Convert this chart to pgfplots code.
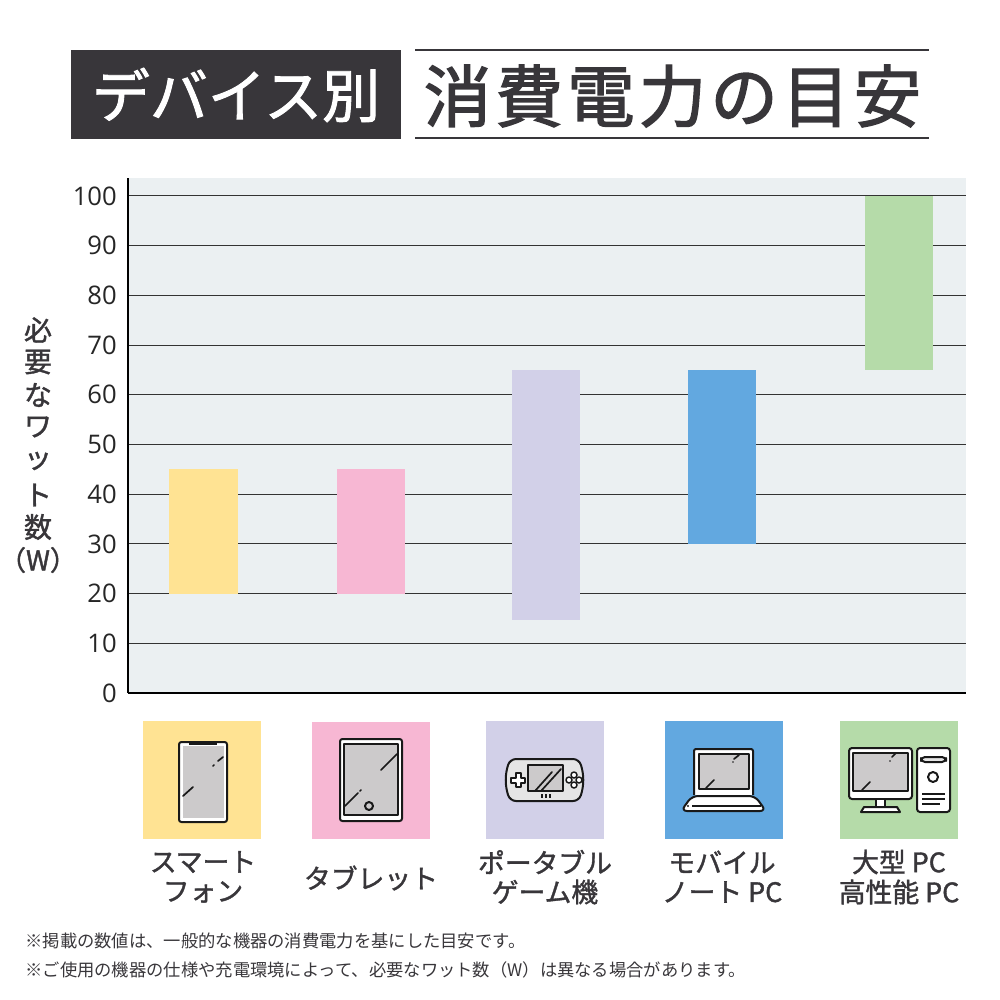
\documentclass[border=0pt]{standalone}
\usepackage{fontspec}
\usepackage{pgfplots}
\pgfplotsset{compat=1.18}
\setmainfont{Open Sans}
\newfontfamily\jp{Noto Sans CJK JP}
\newfontfamily\jpb[FakeBold=1.4]{Noto Sans CJK JP}
\newfontfamily\jpw[FakeBold=1.6]{Noto Sans CJK JP}
\newfontfamily\jpt[FakeBold=2,LetterSpace=6]{Noto Sans CJK JP}
\definecolor{dk}{HTML}{38363A}
\definecolor{cy}{HTML}{FFE393}
\definecolor{cp}{HTML}{F7B7D3}
\definecolor{cl}{HTML}{D2D0E8}
\definecolor{cb}{HTML}{62A8E0}
\definecolor{cg}{HTML}{B5DBA9}
\definecolor{sc}{HTML}{CCCACB}
\definecolor{bgc}{HTML}{EBF0F2}
\begin{document}
\begin{tikzpicture}[x=0.5pt,y=-0.5pt]
\useasboundingbox (0,0) rectangle (1000,1000);
\coordinate (O) at (128,693);
\begin{axis}[
  at={(O)},anchor=origin,
  scale only axis,width=419pt,height=257.5pt,
  xmin=128,xmax=966,ymin=0,ymax=103.6,
  axis x line=bottom,axis y line=left,
  axis line style={-,black,line width=1pt},
  axis background/.style={fill=bgc},
  xtick=\empty,
  ytick={0,10,...,100},
  tick style={draw=none},
  ymajorgrids,
  grid style={line width=0.5pt,color=black!80},
  tick label style={font=\fontsize{12.8}{13}\selectfont,text=black!85},
  /pgf/number format/assume math mode=true,
  ybar stacked,
  bar width=34.2pt,
  clip=false,
]
\addplot[draw=none,fill=none] coordinates {(203.5,20)(371,20)(546,14.7)(722,30)(899,65)};
\addplot[draw=none,fill=cy] coordinates {(203.5,25)(371,0)(546,0)(722,0)(899,0)};
\addplot[draw=none,fill=cp] coordinates {(203.5,0)(371,25)(546,0)(722,0)(899,0)};
\addplot[draw=none,fill=cl] coordinates {(203.5,0)(371,0)(546,50.3)(722,0)(899,0)};
\addplot[draw=none,fill=cb] coordinates {(203.5,0)(371,0)(546,0)(722,35)(899,0)};
\addplot[draw=none,fill=cg] coordinates {(203.5,0)(371,0)(546,0)(722,0)(899,35)};
\end{axis}
% title
\fill[dk] (71,50) rectangle (401,139);
\node[text=white,anchor=center] at (236,95) {\jpw\fontsize{29}{30}\selectfont デバイス別};
\draw[dk,line width=1pt] (415,50.5) -- (929,50.5) (415,138) -- (929,138);
\node[text=dk,anchor=center] at (672.5,96) {\jpt\fontsize{33.8}{34}\selectfont 消費電力の目安};
% y label
\foreach \c/\y in {必/330,要/362,な/395,ワ/427,ッ/461,ト/495,数/527}
  \node[text=dk,anchor=center] at (38,\y) {\jpb\fontsize{14}{15}\selectfont \c};
\node[text=dk,anchor=center,inner sep=0pt] at (38,560) {\jpb\fontsize{13.6}{15}\selectfont （W）};
% tiles
\fill[cy] (143,721) rectangle (261,839);
\fill[cp] (312,722) rectangle (430,839);
\fill[cl] (486,721) rectangle (604,839);
\fill[cb] (665,721) rectangle (783,839);
\fill[cg] (840,721) rectangle (958,839);
\tikzset{ic/.style={draw=black!90,line width=1pt,line join=round},gl/.style={draw=black!90,line width=0.85pt,line cap=round}}
% phone
\draw[ic,fill=white,rounded corners=1.2pt] (179,742) rectangle (227,822);
\fill[sc] (183,746) rectangle (224,818);
\draw[ic,line width=1.8pt] (189,743) -- (217,743);
\draw[gl] (183,796) -- (193,787) (218,761) -- (223,757) (213,766) -- (214,765);
% tablet
\draw[ic,fill=white,rounded corners=1.2pt] (340,739) rectangle (402,821);
\draw[ic,fill=sc] (344,744) rectangle (398,815);
\draw[ic] (369,806) circle[radius=4];
\draw[gl] (345,806) -- (358,793) (360,791) -- (361,790) (381,770) -- (397,754);
% game
\draw[ic,fill=black!10,rounded corners=3pt] (510,759) to[bend right=18] (510,801) -- (579,801) to[bend right=18] (579,759) -- cycle;
\draw[ic,fill=sc] (528,765) rectangle (563,791);
\draw[gl] (535,791) -- (552,772) (541,791) -- (561,769);
\draw[ic,fill=white] (511,777.5) -- (515.5,777.5) -- (515.5,773) -- (520.5,773) -- (520.5,777.5) -- (525,777.5) -- (525,782.5) -- (520.5,782.5) -- (520.5,787) -- (515.5,787) -- (515.5,782.5) -- (511,782.5) -- cycle;
\foreach \a/\b in {574/775,574/785,569/780,579/780} \draw[ic,fill=white,line width=.75pt] (\a,\b) circle[radius=3];
\draw[black!90,line width=.7pt] (542,794)--(542,798) (546,794)--(546,798) (550,794)--(550,798);
% laptop
\draw[ic,fill=white,rounded corners=1pt] (694,795) -- (694,749) -- (753,749) -- (753,795);
\draw[ic,fill=sc] (699,754) rectangle (749,789);
\draw[ic,fill=white,rounded corners=3pt] (692,796) -- (755,796) -- (766,811) -- (681,811) -- cycle;
\draw[black!90,line width=.8pt] (692,806) -- (761,806);
\fill[black!90] (688,806) circle[radius=1.1];
\draw[gl] (706,788) -- (714,780) (734,759) -- (739,755) (733,762) -- (733,762);
% PC
\draw[ic,fill=white,rounded corners=1.5pt] (849,748) rectangle (912,799);
\draw[ic,fill=sc] (853,753) rectangle (908,791);
\draw[gl] (862,790) -- (870,782) (892,757) -- (896,753) (890,761) -- (890,761);
\draw[ic,fill=white] (876,799) rectangle (885,807);
\draw[ic,fill=white] (864,807) -- (897,807) -- (900,812) -- (861,812) -- cycle;
\draw[ic,fill=white,rounded corners=1.5pt] (917,748) rectangle (950,812);
\draw[ic,fill=black!10,rounded corners=2pt] (921,757) rectangle (946,762);
\draw[ic] (933,777) circle[radius=5];
\draw[black!90,line width=.9pt] (922,794) -- (945,794) (922,799) -- (945,799) (922,804) -- (940,804);
% labels
\tikzset{lb/.style={text=dk,anchor=center,inner sep=0pt}}
\newcommand\LB{\jpb\fontsize{13.4}{14}\selectfont}
\node[lb] at (203,862) {\LB スマート};
\node[lb] at (203,892) {\LB フォン};
\node[lb] at (371,878) {\LB タブレット};
\node[lb] at (545,862) {\LB ポータブル};
\node[lb] at (545,892) {\LB ゲーム機};
\node[lb] at (722,862) {\LB モバイル};
\node[lb] at (722,892) {\LB ノート PC};
\node[lb] at (899,862) {\LB 大型 PC};
\node[lb] at (899,892) {\LB 高性能 PC};
% notes
\node[text=dk,anchor=west,inner sep=0pt] at (25,941) {\jp\fontsize{8.65}{9}\selectfont ※掲載の数値は、一般的な機器の消費電力を基にした目安です。};
\node[text=dk,anchor=west,inner sep=0pt] at (25,970) {\jp\fontsize{8.65}{9}\selectfont ※ご使用の機器の仕様や充電環境によって、必要なワット数（W）は異なる場合があります。};
\end{tikzpicture}
\end{document}
